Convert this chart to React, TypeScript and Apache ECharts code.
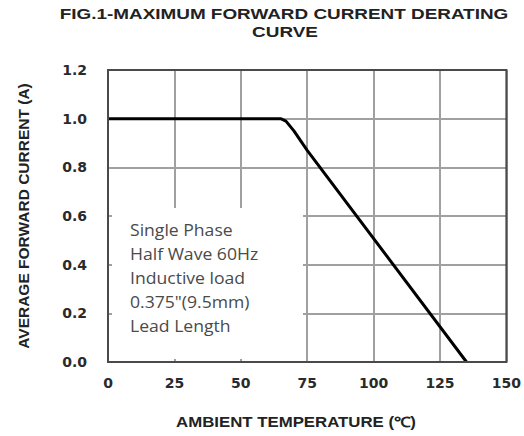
import React, { useEffect, useRef } from "react";
import * as echarts from "echarts";

const temperatures = [0, 65, 67, 70, 75, 135];
const currents = [1.0, 1.0, 0.99, 0.95, 0.87, 0.0];
const titleLines = ["FIG.1-MAXIMUM FORWARD CURRENT DERATING", "CURVE"];
const xAxisTitle = "AMBIENT TEMPERATURE (\u2103)";
const yAxisTitle = "AVERAGE FORWARD CURRENT (A)";
const noteLines = ["Single Phase", "Half Wave 60Hz", "Inductive load", "0.375\"(9.5mm)", "Lead Length"];

export default function App() {
  const ref = useRef<HTMLDivElement>(null);
  useEffect(() => {
    if (!ref.current) return;
    document.body.style.margin = "0";
    const chart = echarts.init(ref.current, null, { renderer: "svg" });
    const data = temperatures.map((t, i) => [t, currents[i]]);
    chart.setOption({
      animation: false,
      backgroundColor: "#fff",
      grid: {
        left: 108,
        right: 17,
        top: 70,
        bottom: 74,
        show: true,
        borderColor: "#4a4a4a",
        borderWidth: 2,
        backgroundColor: "transparent",
        z: 10,
      },
      xAxis: {
        type: "value",
        min: 0,
        max: 150,
        interval: 25,
        axisLine: { show: false },
        axisTick: { show: false },
        axisLabel: {
          margin: 14,
          fontFamily: "DejaVu Sans",
          fontWeight: "bold",
          fontSize: 14,
          color: "#2a2a2a",
        },
        splitLine: { show: true, lineStyle: { color: "#a0a0a0", width: 2 } },
      },
      yAxis: {
        type: "value",
        min: 0,
        max: 1.2,
        interval: 0.2,
        name: yAxisTitle,
        nameLocation: "middle",
        nameRotate: 90,
        nameGap: 77,
        nameTextStyle: {
          fontFamily: "Liberation Sans",
          fontWeight: "bold",
          fontSize: 15.5,
          color: "#222",
        },
        axisLine: { show: false },
        axisTick: { show: false },
        axisLabel: {
          margin: 21,
          fontFamily: "DejaVu Sans",
          fontWeight: "bold",
          fontSize: 14,
          color: "#2a2a2a",
          formatter: (v: number) => v.toFixed(1),
        },
        splitLine: { show: true, lineStyle: { color: "#a0a0a0", width: 2 } },
      },
      graphic: [
        {
          type: "rect",
          z: 1,
          shape: { x: 112, y: 208, width: 191, height: 151 },
          style: { fill: "#fff" },
        },
        {
          type: "text",
          z: 2,
          x: 130,
          y: 218,
          scaleX: 1.1,
          style: {
            text: noteLines.join("\n"),
            fontFamily: "Open Sans",
            fontSize: 16,
            lineHeight: 24,
            fill: "#4a4a4a",
            textAlign: "left",
            textVerticalAlign: "top",
          },
        },
        {
          type: "text",
          x: 284,
          y: 14,
          scaleX: 1.35,
          style: {
            text: titleLines[0],
            fontFamily: "Liberation Sans",
            fontWeight: "bold",
            fontSize: 14,
            fill: "#222",
            textAlign: "center",
            textVerticalAlign: "middle",
          },
        },
        {
          type: "text",
          x: 285,
          y: 32,
          scaleX: 1.35,
          style: {
            text: titleLines[1],
            fontFamily: "Liberation Sans",
            fontWeight: "bold",
            fontSize: 14,
            fill: "#222",
            textAlign: "center",
            textVerticalAlign: "middle",
          },
        },
        {
          type: "text",
          x: 296,
          y: 422,
          scaleX: 1.2,
          style: {
            text: xAxisTitle,
            fontFamily: "Liberation Sans",
            fontWeight: "bold",
            fontSize: 14,
            fill: "#222",
            textAlign: "center",
            textVerticalAlign: "middle",
          },
        },
      ],
      series: [
        {
          type: "line",
          data,
          showSymbol: false,
          symbol: "none",
          z: 5,
          lineStyle: { color: "#000", width: 3 },
        },
      ],
    });
    return () => chart.dispose();
  }, []);
  return <div ref={ref} style={{ width: 524, height: 436 }} />;
}
